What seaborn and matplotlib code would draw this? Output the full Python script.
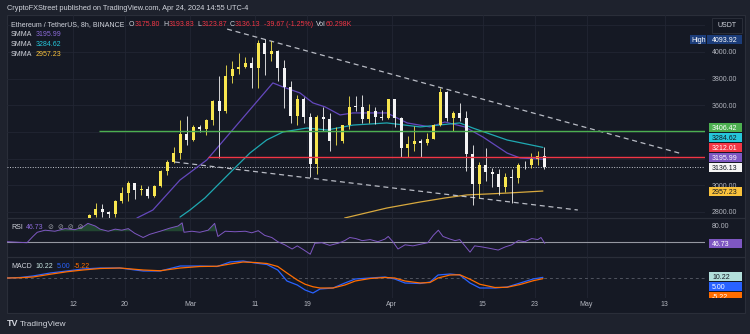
import numpy as np
import pandas as pd
import matplotlib
matplotlib.use("Agg")
import matplotlib.pyplot as plt
import matplotlib.dates as mdates
import matplotlib.transforms as mtrans
from matplotlib.patches import Rectangle
import seaborn as sns

# ---------------------------------------------------------------- data
header_text = "CryptoFXStreet published on TradingView.com, Apr 24, 2024 14:55 UTC-4"
symbol_text = "Ethereum / TetherUS, 8h, BINANCE"
ohlc_letters = ["O", "H", "L", "C"]
ohlc_values = ["3175.80", "3193.83", "3123.87", "3136.13"]
change_text = "-39.67 (-1.25%)"
vol_value = "60.298K"

candle_start = "2024-02-14"
candle_end = "2024-04-24"
opens = [2640, 2775, 2820, 2800, 2785, 2880, 2945, 3015, 2965, 2970, 2920, 2995, 3110, 3175, 3245, 3385,
         3340, 3435, 3420, 3490, 3630, 3555, 3820, 3870, 3890, 3915, 3880, 4065, 3985, 4005, 3880, 3735,
         3520, 3645, 3515, 3160, 3515, 3495, 3330, 3335, 3450, 3590, 3588, 3495, 3560, 3510, 3505,
         3645, 3505, 3280, 3310, 3330, 3320, 3350, 3455, 3700, 3505, 3545, 3505, 3235, 3010, 3155, 3100,
         3085, 2985, 3065, 3055, 3155, 3150, 3200, 3220]
highs = [2785, 2865, 2860, 2810, 2890, 2985, 3035, 3020, 3000, 2995, 3000, 3115, 3190, 3285, 3490, 3520,
         3450, 3455, 3495, 3640, 3820, 3900, 3930, 3995, 3960, 3965, 4090, 4094, 4085, 4015, 3940, 3780,
         3680, 3660, 3545, 3530, 3590, 3545, 3440, 3455, 3670, 3670, 3680, 3610, 3585, 3565, 3650,
         3650, 3510, 3370, 3445, 3345, 3395, 3460, 3730, 3710, 3560, 3620, 3555, 3305, 3175, 3280, 3130,
         3120, 3095, 3125, 3170, 3180, 3240, 3255, 3290]
lows = [2630, 2760, 2760, 2730, 2760, 2870, 2880, 2900, 2930, 2905, 2910, 2985, 3080, 3170, 3195, 3300,
        3330, 3400, 3375, 3450, 3205, 3540, 3770, 3835, 3880, 3730, 3730, 3830, 3935, 3785, 3580, 3465,
        3450, 3470, 3060, 3085, 3410, 3260, 3300, 3315, 3420, 3560, 3465, 3470, 3460, 3490, 3500,
        3440, 3215, 3210, 3255, 3210, 3305, 3345, 3445, 3485, 3405, 3485, 3105, 2855, 2905, 3030, 2990,
        2925, 2950, 2865, 3020, 3120, 3130, 3150, 3125]
closes = [2775, 2820, 2800, 2785, 2880, 2945, 3015, 2965, 2970, 2920, 2995, 3110, 3175, 3245, 3385, 3340,
          3435, 3420, 3490, 3630, 3555, 3820, 3870, 3890, 3915, 3880, 4065, 3985, 4005, 3880, 3735, 3520,
          3645, 3515, 3160, 3515, 3495, 3330, 3335, 3450, 3590, 3588, 3495, 3560, 3510, 3505, 3645,
          3505, 3280, 3310, 3330, 3320, 3350, 3455, 3700, 3505, 3545, 3505, 3235, 3010, 3155, 3100, 3085,
          2985, 3065, 3055, 3155, 3150, 3200, 3220, 3136.13]

smma_fast_times = ["2024-02-21 20:00", "2024-02-24 07:00", "2024-02-28 11:00", "2024-03-03 14:00",
                   "2024-03-13 18:00", "2024-03-15 07:00", "2024-03-17 22:00", "2024-03-19 22:00",
                   "2024-03-21 19:00", "2024-03-24 02:00", "2024-03-26 02:00", "2024-03-31 07:00",
                   "2024-04-03 10:00", "2024-04-06 22:00", "2024-04-09 05:00", "2024-04-12 07:00",
                   "2024-04-15 02:00", "2024-04-18 19:00", "2024-04-20 19:00", "2024-04-24 07:00"]
smma_fast_values = [2755, 2815, 3040, 3190, 3768, 3738, 3693, 3618, 3588, 3528, 3543, 3543, 3468, 3438,
                    3475, 3438, 3362, 3242, 3205, 3195.99]

smma_mid_times = ["2024-02-28 11:00", "2024-03-01 00:00", "2024-03-03 07:00", "2024-03-07 14:00",
                  "2024-03-10 05:00", "2024-03-12 19:00", "2024-03-15 07:00", "2024-03-19 00:00",
                  "2024-03-22 02:00", "2024-03-26 02:00", "2024-03-31 07:00", "2024-04-05 10:00",
                  "2024-04-11 12:00", "2024-04-13 12:00", "2024-04-18 19:00", "2024-04-24 07:00"]
smma_mid_values = [2762, 2815, 2905, 3115, 3242, 3340, 3400, 3430, 3415, 3452, 3468, 3438, 3468, 3430,
                   3340, 3284.62]

smma_slow_times = ["2024-03-24 19:00", "2024-03-31 07:00", "2024-04-05 10:00", "2024-04-09 05:00",
                   "2024-04-12 14:00", "2024-04-18 19:00", "2024-04-24 07:00"]
smma_slow_values = [2755, 2830, 2875, 2905, 2928, 2942, 2957.23]

level_values = [3406.42, 3212.01]
level_starts = ["2024-02-16 01:00", "2024-03-03 19:00"]
last_price = 3136.13
high_value = 4093.92

upper_trend_times = ["2024-03-06 17:00", "2024-05-15 10:00"]
upper_trend_prices = [4172, 3240]
lower_trend_times = ["2024-02-27 16:00", "2024-04-29 16:00"]
lower_trend_prices = [3175, 2815]

rsi_times = ["2024-02-01 20:00", "2024-02-03 10:00", "2024-02-04 22:00", "2024-02-05 20:00", "2024-02-06 12:00",
             "2024-02-07 17:00", "2024-02-09 05:00", "2024-02-10 19:00", "2024-02-12 07:00", "2024-02-13 12:00",
             "2024-02-14 07:00", "2024-02-15 10:00", "2024-02-16 04:00", "2024-02-17 10:00", "2024-02-18 12:00",
             "2024-02-19 12:00", "2024-02-20 12:00", "2024-02-21 12:00", "2024-02-22 19:00", "2024-02-23 19:00",
             "2024-02-25 10:00", "2024-02-26 22:00", "2024-02-28 04:00", "2024-02-28 19:00", "2024-02-29 02:00",
             "2024-03-01 07:00", "2024-03-02 12:00", "2024-03-03 19:00", "2024-03-04 19:00", "2024-03-05 07:00",
             "2024-03-06 10:00", "2024-03-07 22:00", "2024-03-09 12:00", "2024-03-10 12:00", "2024-03-11 12:00",
             "2024-03-12 12:00", "2024-03-13 14:00", "2024-03-14 12:00", "2024-03-15 14:00", "2024-03-16 17:00",
             "2024-03-17 12:00", "2024-03-18 10:00", "2024-03-19 12:00", "2024-03-20 05:00", "2024-03-21 07:00",
             "2024-03-22 12:00", "2024-03-23 19:00", "2024-03-24 19:00", "2024-03-25 14:00", "2024-03-26 12:00",
             "2024-03-27 12:00", "2024-03-28 17:00", "2024-03-29 22:00", "2024-03-31 00:00", "2024-03-31 12:00",
             "2024-04-01 05:00", "2024-04-02 00:00", "2024-04-03 02:00", "2024-04-04 07:00", "2024-04-05 10:00",
             "2024-04-06 14:00", "2024-04-07 10:00", "2024-04-08 05:00", "2024-04-08 22:00", "2024-04-10 00:00",
             "2024-04-10 19:00", "2024-04-11 12:00", "2024-04-12 07:00", "2024-04-13 02:00", "2024-04-13 19:00",
             "2024-04-14 22:00", "2024-04-16 05:00", "2024-04-17 10:00", "2024-04-18 12:00", "2024-04-19 12:00",
             "2024-04-20 12:00", "2024-04-21 12:00", "2024-04-22 14:00", "2024-04-23 12:00", "2024-04-24 00:00",
             "2024-04-24 14:00"]
rsi_values = [50, 49, 48, 60, 68, 72, 70, 75, 73, 78, 85, 80, 74, 70, 74, 72, 75, 66, 58, 64,
              70, 76, 80, 86, 68, 70, 68, 72, 85, 60, 70, 69, 70, 67, 71, 62, 58, 50, 44, 36,
              42, 35, 26, 47, 48, 43, 47, 52, 58, 56, 52, 54, 50, 55, 60, 50, 36, 44, 42, 45,
              48, 62, 72, 60, 55, 52, 54, 42, 30, 42, 40, 37, 34, 40, 44, 52, 50, 56, 54, 58, 46.73]
rsi_mid_level = 50
rsi_ob_level = 70
rsi_tick = 80

macd_times = ["2024-02-01 20:00", "2024-02-03 20:00", "2024-02-05 20:00", "2024-02-08 12:00", "2024-02-11 02:00",
              "2024-02-13 12:00", "2024-02-16 04:00", "2024-02-19 05:00", "2024-02-22 19:00", "2024-02-25 10:00",
              "2024-02-28 12:00", "2024-03-02 12:00", "2024-03-05 04:00", "2024-03-07 04:00", "2024-03-09 04:00",
              "2024-03-11 00:00", "2024-03-12 20:00", "2024-03-14 12:00", "2024-03-15 22:00", "2024-03-17 12:00",
              "2024-03-18 17:00", "2024-03-19 22:00", "2024-03-21 00:00", "2024-03-23 00:00", "2024-03-24 20:00",
              "2024-03-26 10:00", "2024-03-28 17:00", "2024-03-31 00:00", "2024-04-01 12:00", "2024-04-03 02:00",
              "2024-04-05 10:00", "2024-04-06 22:00", "2024-04-08 04:00", "2024-04-10 00:00", "2024-04-11 12:00",
              "2024-04-13 02:00", "2024-04-14 14:00", "2024-04-16 22:00", "2024-04-18 19:00", "2024-04-20 19:00",
              "2024-04-22 19:00", "2024-04-24 07:00"]
macd_values = [0, 4, 16, 40, 56, 72, 80, 80, 56, 56, 96, 96, 92, 128, 136, 120, 108, 64, -24, -56,
               -96, -120, -88, -80, -40, -8, 0, 8, -8, -40, -44, -32, 24, 32, 24, -40, -80, -80, -72, -40,
               -8, 5.0]
signal_values = [0, 2, 8, 30, 50, 64, 76, 80, 64, 58, 80, 92, 94, 112, 128, 124, 116, 92, 40, -16,
                 -50, -70, -80, -80, -56, -24, -4, 4, 0, -24, -40, -36, 0, 24, 26, -10, -50, -76, -74, -52,
                 -22, -5.22]
macd_legend = ["10.22", "5.00", "-5.22"]
macd_label_values = [10.22, 5.00, -5.22]

price_ticks = [2800, 3000, 3200, 3400, 3600, 3800, 4000, 4200]
price_tick_labels = ["2800.00", "3000.00", "", "", "3600.00", "3800.00", "4000.00", ""]
x_tick_dates = ["2024-02-12", "2024-02-20", "2024-03-01", "2024-03-11", "2024-03-19",
                "2024-04-01", "2024-04-15", "2024-04-23", "2024-05-01", "2024-05-13"]
x_tick_labels = ["12", "20", "Mar", "11", "19", "Apr", "15", "23", "May", "13"]

# ---------------------------------------------------------------- style
OUTER = "#1E222D"
BG = "#151924"
GRID = "#222633"
BORDER = "#2A2E39"
TXT = "#B2B5BE"
LEG = "#D1D4DC"
RED = "#F23645"
GREEN = "#4CAF50"
TEAL_LINE = "#1FA9B2"
TEAL_BOX = "#26C6DA"
PURPLE_LINE = "#6448BD"
PURPLE_TXT = "#8C6BDA"
PURPLE_BOX = "#7E57C2"
ORANGE_LINE = "#D8A93E"
ORANGE_BOX = "#F9C23C"
YEL = "#F8E64E"
WHITE = "#F4F4F4"
DASH = "#B8BBC4"
BLUE = "#2962FF"
ORANGE = "#FF6D00"

sns.set_theme(style="dark", rc={"axes.facecolor": "none", "figure.facecolor": OUTER,
                                "savefig.facecolor": OUTER})
plt.rcParams["font.family"] = ["Liberation Sans", "DejaVu Sans"]

W, H = 750, 334
fig = plt.figure(figsize=(W / 100, H / 100), dpi=100)


def rect(x0, y0, x1, y1):
    return [x0 / W, 1 - y1 / H, (x1 - x0) / W, (y1 - y0) / H]


# chart frame
fig.add_artist(Rectangle((7 / W, 1 - 313 / H), 738 / W, 298 / H, transform=fig.transFigure,
                         facecolor=BG, edgecolor=BORDER, lw=0.8, zorder=-5))
for ysep in (218, 257):
    fig.add_artist(plt.Line2D([7 / W, 745 / W], [1 - ysep / H, 1 - ysep / H], transform=fig.transFigure,
                              color=BORDER, lw=0.9, zorder=-4))

ax_p = fig.add_axes(rect(7, 15, 705, 218))
ax_r = fig.add_axes(rect(7, 218, 705, 257), sharex=ax_p)
ax_m = fig.add_axes(rect(7, 257, 705, 298), sharex=ax_p)


def tnum(lst):
    return mdates.date2num(pd.to_datetime(lst))


feb12 = mdates.date2num(pd.Timestamp("2024-02-12"))
xmin = feb12 - 66 / 6.5
xmax = feb12 + (705 - 73) / 6.5

# ---------------------------------------------------------------- price pane
cdates = tnum(pd.date_range(candle_start, candle_end, freq="D")) + 0.5
o = np.array(opens, float)
h = np.array(highs, float)
l = np.array(lows, float)
c = np.array(closes, float)
cols = np.where(c >= o, YEL, WHITE)
ax_p.vlines(cdates, l, h, colors=cols, lw=0.6, zorder=4)
ax_p.bar(cdates, np.maximum(np.abs(c - o), 5), bottom=np.minimum(o, c), width=0.5,
         color=cols, linewidth=0, zorder=5)

sns.lineplot(x=tnum(smma_fast_times), y=smma_fast_values, ax=ax_p, color=PURPLE_LINE, lw=0.9, zorder=3)
sns.lineplot(x=tnum(smma_mid_times), y=smma_mid_values, ax=ax_p, color=TEAL_LINE, lw=0.9, zorder=3)
sns.lineplot(x=tnum(smma_slow_times), y=smma_slow_values, ax=ax_p, color=ORANGE_LINE, lw=0.9, zorder=3)

level_colors = [GREEN, RED]
for val, start, lcol in zip(level_values, level_starts, level_colors):
    ax_p.hlines(val, tnum([start])[0], xmax, colors=lcol, lw=1.0, zorder=6)
ax_p.axhline(last_price, color="#C5C8D0", lw=0.7, ls=(0, (1, 1.6)), zorder=2)

ax_p.plot(tnum(upper_trend_times), upper_trend_prices, color=DASH, lw=0.9, ls=(0, (4, 3)), zorder=3)
ax_p.plot(tnum(lower_trend_times), lower_trend_prices, color=DASH, lw=0.9, ls=(0, (4, 3)), zorder=3)

ax_p.set_ylim(2755, 4277.5)
ax_p.yaxis.tick_right()
ax_p.set_yticks(price_ticks)
ax_p.set_yticklabels(price_tick_labels)
ax_p.tick_params(axis="y", length=0, pad=5, labelsize=5, labelcolor=TXT)
ax_p.grid(True, axis="both", color=GRID, lw=0.6)

# ---------------------------------------------------------------- RSI pane
rx = tnum(rsi_times)
ry = np.array(rsi_values, float)
ax_r.fill_between(rx, rsi_ob_level, ry, where=ry > rsi_ob_level, interpolate=True,
                  color="#2C6B3C", alpha=0.55, lw=0, zorder=2)
ax_r.axhline(rsi_mid_level, color="#9598A1", lw=0.8, zorder=2)
sns.lineplot(x=rx, y=ry, ax=ax_r, color=PURPLE_BOX, lw=0.7, zorder=3)
ax_r.set_ylim(20.7, 95.3)
ax_r.yaxis.tick_right()
ax_r.set_yticks([rsi_tick])
ax_r.set_yticklabels([f"{rsi_tick:.2f}"])
ax_r.tick_params(axis="y", length=0, pad=5, labelsize=5, labelcolor=TXT)
ax_r.grid(True, axis="x", color=GRID, lw=0.6)

# ---------------------------------------------------------------- MACD pane
mx = tnum(macd_times)
ax_m.axhline(0, color="#50545F", lw=0.7, ls=(0, (3, 3)), zorder=2)
sns.lineplot(x=mx, y=macd_values, ax=ax_m, color=BLUE, lw=0.9, zorder=3)
sns.lineplot(x=mx, y=signal_values, ax=ax_m, color=ORANGE, lw=0.9, zorder=4)
ax_m.set_ylim(-160, 168)
ax_m.set_yticks([])
ax_m.grid(True, axis="x", color=GRID, lw=0.6)

ax_m.set_xlim(xmin, xmax)
ax_m.set_xticks(tnum(x_tick_dates))
ax_m.set_xticklabels(x_tick_labels)
ax_m.tick_params(axis="x", length=0, pad=2.5, labelsize=5, labelcolor=TXT)
for ax in (ax_p, ax_r):
    ax.tick_params(axis="x", length=0, labelbottom=False)
for ax in (ax_p, ax_r, ax_m):
    ax.set_facecolor("none")
    ax.set_xlabel("")
    ax.set_ylabel("")
    for s in ax.spines.values():
        s.set_visible(False)
    ax.set_axisbelow(True)

# ---------------------------------------------------------------- price labels (right axis)
def draw_box(ypix, text, fc, tc, x0=709, x1=742, clip=None, ha_x=712):
    r = Rectangle((x0 / W, (ypix - 4.5) / H), (x1 - x0) / W, 9 / H, transform=fig.transFigure,
                  facecolor=fc, edgecolor="none", zorder=6)
    fig.add_artist(r)
    t = fig.text(ha_x / W, ypix / H, text, color=tc, fontsize=5, ha="left", va="center_baseline", zorder=7)
    if clip is not None:
        r.set_clip_box(clip)
        t.set_clip_box(clip)
        t.set_clip_on(True)
    return t


def stacked(ax, items, direction, gap=10, clip=None):
    ys = [ax.transData.transform((0, v))[1] for v, _, _ in items]
    order = np.argsort(ys) if direction == "up" else np.argsort(ys)[::-1]
    prev = None
    for i in order:
        y = ys[i]
        if prev is not None:
            y = max(y, prev + gap) if direction == "up" else min(y, prev - gap)
        prev = y
        v, fc, tc = items[i]
        draw_box(y, f"{v:.2f}", fc, tc, clip=clip)


stacked(ax_p, [(level_values[0], GREEN, "white"), (smma_mid_values[-1], TEAL_BOX, "#131722"),
               (level_values[1], RED, "white"), (smma_fast_values[-1], PURPLE_BOX, "white"),
               (last_price, WHITE, "#131722"), (smma_slow_values[-1], ORANGE_BOX, "#131722")], "up")
stacked(ax_r, [(rsi_values[-1], PURPLE_BOX, "white")], "up")
macd_clip = mtrans.Bbox.from_extents(7, H - 298, 745, H - 257)
stacked(ax_m, [(macd_label_values[0], "#B2DFDB", "#131722"), (macd_label_values[1], BLUE, "white"),
               (macd_label_values[2], ORANGE, "white")], "down", clip=macd_clip)

yh = ax_p.transData.transform((0, high_value))[1]
draw_box(yh, f"{high_value:.2f}", "#1C3D7A", "white", x0=707, x1=742)
draw_box(yh, "High", "#1C3D7A", "white", x0=690, x1=705.5, ha_x=691.5)
fig.add_artist(Rectangle((712 / W, 1 - 33 / H), 30 / W, 15 / H, transform=fig.transFigure,
                         facecolor="#131722", edgecolor=BORDER, lw=0.7, zorder=6))
fig.text(727 / W, 1 - 25.5 / H, "USDT", color=LEG, fontsize=5, ha="center", va="center", zorder=7)

# ---------------------------------------------------------------- legends / texts
renderer = fig.canvas.get_renderer()


def seq(x_px, y_px, parts, size=5, weight="normal"):
    x = x_px
    for s, col, gap in parts:
        t = fig.text(x / W, 1 - y_px / H, s, color=col, fontsize=size, ha="left", va="center",
                     fontweight=weight, zorder=8)
        x = t.get_window_extent(renderer).x1 + gap


seq(7, 8, [(header_text, LEG, 0)], size=5.3)
parts = [(symbol_text, LEG, 4.5)]
for letter, val in zip(ohlc_letters, ohlc_values):
    parts += [(letter, LEG, 0.2), (val, RED, 3)]
parts += [(change_text, RED, 3), ("Vol", LEG, 0.2), (vol_value, RED, 0)]
seq(11, 25, parts)
for k, (val, col) in enumerate([(smma_fast_values[-1], PURPLE_TXT), (smma_mid_values[-1], TEAL_BOX),
                                (smma_slow_values[-1], ORANGE_BOX)]):
    seq(11, 34.5 + 10 * k, [("SMMA", LEG, 3.5), (f"{val:.2f}", col, 0)])
seq(11, 227.5, [("RSI", LEG, 3.5), (f"{rsi_values[-1]:.2f}", PURPLE_TXT, 4),
                ("\u2298  \u2298  \u2298  \u2298", "#9598A1", 0)])
seq(11, 266.5, [("MACD", LEG, 3.5), (macd_legend[0], "#C8E6E2", 3.5), (macd_legend[1], BLUE, 3.5),
                (macd_legend[2], ORANGE, 0)])
seq(7, 324, [("TV", LEG, 3)], size=6.5, weight="bold")
seq(20, 324, [("TradingView", LEG, 0)], size=6)

fig.savefig("out.png", dpi=100, facecolor=OUTER)
